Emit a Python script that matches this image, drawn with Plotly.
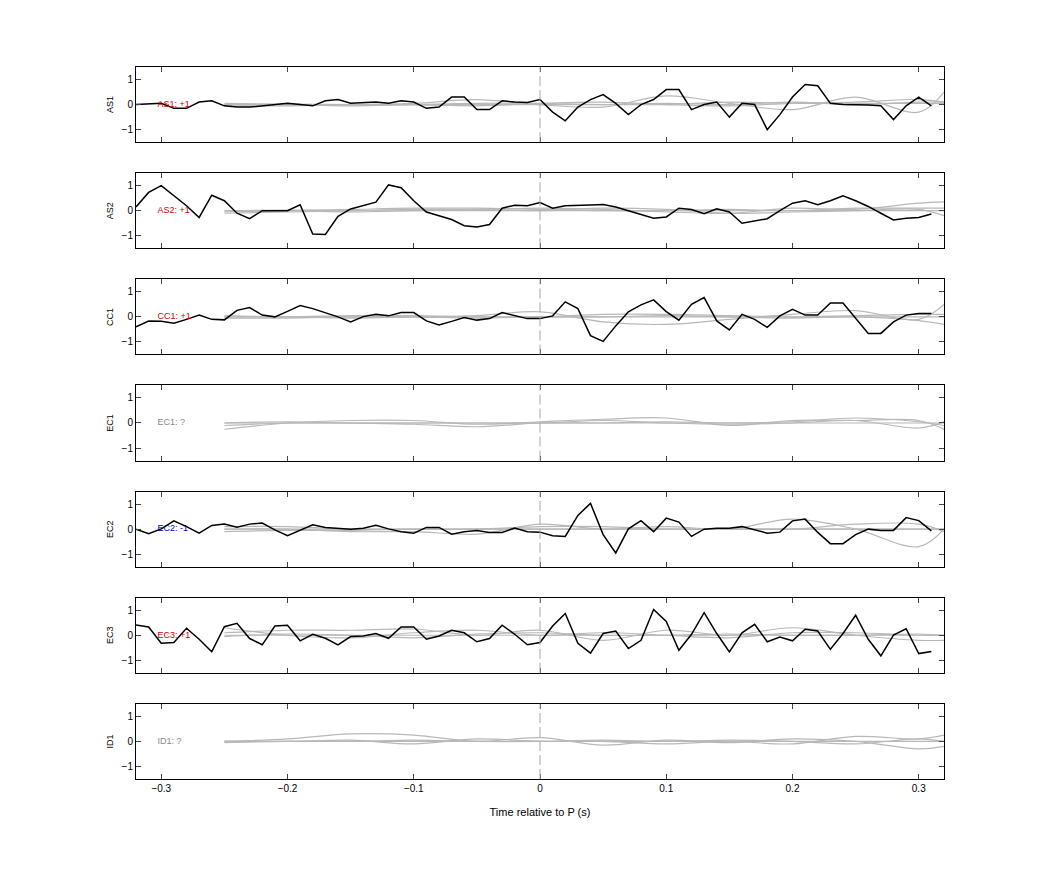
import plotly.graph_objects as go
from plotly.subplots import make_subplots

stations = ["AS1", "AS2", "CC1", "EC1", "EC2", "EC3", "ID1"]
labels = ["AS1: +1", "AS2: +1", "CC1: +1", "EC1: ?", "EC2: -1", "EC3: +1", "ID1: ?"]
label_colors = ["#d40000", "#d40000", "#d40000", "#888888", "#0000d4", "#d40000", "#888888"]

t0, dt = -0.32, 0.01
black = {
    "AS1": [0.0, 0.02, 0.05, -0.15, -0.15, 0.1, 0.15, -0.05, -0.1, -0.1, -0.05, 0.0, 0.05, 0.0, -0.05, 0.15,
            0.2, 0.05, 0.08, 0.1, 0.05, 0.15, 0.1, -0.15, -0.1, 0.3, 0.3, -0.2, -0.2, 0.15, 0.1, 0.08,
            0.2, -0.3, -0.65, -0.1, 0.2, 0.4, 0.05, -0.4, 0.0, 0.2, 0.6, 0.6, -0.2, 0.0, 0.1, -0.5,
            0.05, 0.0, -1.0, -0.4, 0.3, 0.8, 0.75, 0.05, 0.0, 0.0, -0.02, -0.05, -0.6, -0.05, 0.3, -0.05],
    "AS2": [0.15, 0.73, 1.0, 0.6, 0.2, -0.27, 0.62, 0.4, -0.1, -0.32, 0.0, 0.0, 0.0, 0.24, -0.93, -0.95,
            -0.22, 0.07, 0.2, 0.34, 1.03, 0.92, 0.4, -0.05, -0.2, -0.35, -0.6, -0.65, -0.55, 0.1, 0.22, 0.2,
            0.33, 0.1, 0.2, 0.23, 0.23, 0.25, 0.15, 0.0, -0.15, -0.3, -0.25, 0.1, 0.05, -0.12, 0.08, -0.05,
            -0.5, -0.4, -0.32, 0.0, 0.3, 0.4, 0.24, 0.4, 0.6, 0.4, 0.17, -0.1, -0.37, -0.3, -0.27, -0.13],
    "CC1": [-0.4, -0.17, -0.18, -0.25, -0.1, 0.07, -0.1, -0.12, 0.26, 0.37, 0.07, 0.0, 0.22, 0.45, 0.33, 0.17,
            0.0, -0.2, 0.01, 0.1, 0.04, 0.17, 0.17, -0.16, -0.32, -0.18, -0.03, -0.13, -0.07, 0.17, 0.04, -0.07,
            -0.07, 0.04, 0.6, 0.33, -0.75, -0.98, -0.36, 0.2, 0.48, 0.68, 0.21, -0.13, 0.5, 0.77, -0.16, -0.52,
            0.1, -0.1, -0.42, 0.04, 0.3, 0.07, 0.07, 0.55, 0.55, -0.05, -0.66, -0.66, -0.2, 0.07, 0.13, 0.13],
    "EC2": [0.0, -0.18, 0.01, 0.33, 0.1, -0.16, 0.15, 0.2, 0.08, 0.2, 0.24, -0.03, -0.26, -0.05, 0.17, 0.07,
            0.04, 0.0, 0.04, 0.15, 0.01, -0.1, -0.16, 0.07, 0.07, -0.2, -0.1, -0.05, -0.13, -0.13, 0.04, -0.1,
            -0.12, -0.26, -0.29, 0.55, 1.03, -0.22, -0.95, 0.01, 0.34, -0.1, 0.44, 0.28, -0.29, 0.0, 0.04, 0.04,
            0.1, -0.03, -0.16, -0.12, 0.33, 0.4, -0.13, -0.58, -0.58, -0.22, 0.0, -0.05, -0.05, 0.46, 0.34, -0.07],
    "EC3": [0.41, 0.33, -0.32, -0.29, 0.28, -0.16, -0.66, 0.34, 0.48, -0.13, -0.38, 0.37, 0.4, -0.22, 0.04, -0.12,
            -0.38, -0.05, -0.03, 0.07, -0.12, 0.33, 0.33, -0.16, -0.03, 0.2, 0.1, -0.26, -0.13, 0.4, 0.04, -0.38,
            -0.29, 0.37, 0.87, -0.32, -0.71, 0.07, 0.17, -0.53, -0.2, 1.03, 0.55, -0.6, 0.04, 0.9, 0.07, -0.66,
            0.1, 0.44, -0.26, -0.07, -0.22, 0.24, 0.17, -0.56, 0.07, 0.8, -0.16, -0.82, 0.01, 0.26, -0.73, -0.65],
}

gray_t = [-0.25, -0.2, -0.15, -0.1, -0.05, 0.0, 0.05, 0.1, 0.15, 0.2, 0.25, 0.3, 0.32]
gray = {
    "AS1": [[0, 0, 0, 0.05, 0.2, 0.0, -0.1, 0.35, 0.05, -0.2, 0.3, -0.3, 0.5],
            [0.05, 0, -0.05, 0, 0.05, 0.05, 0, 0.05, 0, 0.1, 0, 0.1, 0.1],
            [-0.05, -0.05, 0, 0, -0.05, 0.05, 0.1, 0, -0.05, 0.05, 0.1, 0.2, 0.1],
            [0, 0.02, 0, 0, 0, 0, 0, 0, 0.1, 0.05, 0.05, 0.05, 0.05]],
    "AS2": [[-0.1, -0.05, 0, 0.05, 0.05, 0.1, 0.05, -0.05, -0.1, 0.1, 0.05, 0.3, 0.35],
            [0, 0, 0.05, 0.1, 0.1, 0.05, 0, 0, 0.05, 0, 0.1, 0.1, 0.1],
            [-0.05, 0, -0.05, 0, 0.05, 0, 0.1, 0.05, -0.1, -0.05, 0, 0.05, -0.2],
            [0, 0.02, 0, 0, 0, 0, 0, 0, 0, 0, 0, 0, 0]],
    "CC1": [[0, 0, -0.05, 0, 0.05, 0.2, -0.2, -0.3, -0.1, 0.1, 0.25, -0.1, 0.5],
            [0.05, 0, 0.05, 0.05, 0, 0, 0.1, 0.1, 0.05, 0, 0.05, 0.1, 0.1],
            [-0.05, -0.05, 0, 0, -0.05, 0, 0, 0.05, 0, -0.05, 0, -0.15, -0.3],
            [0, 0, 0, 0, 0, 0, 0, 0, 0, 0, 0, 0, 0]],
    "EC1": [[-0.25, 0, 0.1, 0.1, -0.05, 0.05, 0.15, 0.2, -0.1, 0.1, 0.1, 0.1, -0.25],
            [-0.1, 0, 0, 0, 0, 0, 0.1, 0, -0.05, 0, 0.1, -0.2, 0.05],
            [0, 0.05, 0, -0.05, -0.15, 0, 0, 0.05, 0, 0.05, 0.2, 0.05, -0.1],
            [0, 0, 0, 0, 0, 0, 0, 0, 0, 0, 0, 0, 0]],
    "EC2": [[0, 0, -0.1, -0.1, -0.2, 0.2, 0.0, 0.1, 0.0, 0.4, 0.0, -0.7, 0.0],
            [0.1, 0.1, 0, 0, 0, 0.1, 0.1, 0, 0, 0, 0.2, 0.2, -0.1],
            [-0.1, -0.05, -0.05, 0, 0, 0, 0, 0, 0, 0, 0, 0, 0],
            [0, 0, 0, 0, 0, 0, 0, 0, 0, 0, 0, 0, 0]],
    "EC3": [[0.1, 0.2, 0.2, 0.25, 0, 0.2, -0.2, 0.2, 0, 0.3, 0, -0.2, -0.2],
            [0.3, 0, -0.1, 0.1, 0.2, 0, 0.1, 0, -0.1, 0.1, 0.1, 0, 0],
            [-0.05, 0.05, 0, -0.1, 0.05, 0.1, 0, 0, 0.05, 0, 0, 0.05, 0],
            [0, 0, 0, 0, 0, 0, 0, 0, 0, 0, 0, 0, 0]],
    "ID1": [[0, 0.1, 0.3, 0.25, 0, 0.15, -0.15, 0.05, -0.05, 0.1, 0, -0.3, -0.2],
            [0, 0, 0.05, -0.1, 0.1, 0, 0, -0.1, 0, -0.1, 0.2, 0.1, 0.25],
            [-0.05, 0, 0, 0.05, 0, 0, 0.05, 0, 0.05, 0, -0.1, 0.1, 0],
            [0, 0, 0, 0, 0, 0, 0, 0, 0, 0, 0, 0, 0]],
}

x_ticks = [-0.3, -0.2, -0.1, 0, 0.1, 0.2, 0.3]
y_ticks = [-1, 0, 1]

fig = make_subplots(rows=7, cols=1, shared_xaxes=False, vertical_spacing=0.0435)
for i, st in enumerate(stations):
    r = i + 1
    for g in gray[st]:
        fig.add_trace(go.Scatter(x=gray_t, y=g, mode="lines", line=dict(color="#b8b8b8", width=1.2, shape="spline"),
                                 hoverinfo="skip", showlegend=False), row=r, col=1)
    if st in black:
        ys = black[st]
        xs = [round(t0 + dt * k, 4) for k in range(len(ys))]
        fig.add_trace(go.Scatter(x=xs, y=ys, mode="lines", line=dict(color="black", width=1.5),
                                 showlegend=False), row=r, col=1)
    fig.add_trace(go.Scatter(x=[-0.303], y=[0], mode="text", text=[labels[i]], textposition="middle right",
                             textfont=dict(color=label_colors[i], size=9, family="Liberation Sans"),
                             showlegend=False), row=r, col=1)
    xa = "x" if r == 1 else f"x{r}"
    ya = "y" if r == 1 else f"y{r}"
    fig.add_shape(type="line", x0=0, x1=0, y0=0, y1=1, xref=xa, yref=f"{ya} domain",
                  line=dict(color="#b0a4a4", width=1, dash="10px,4px"))
    fig.update_xaxes(range=[-0.32, 0.32], tickvals=x_ticks, showticklabels=(r == 7), ticks="inside",
                     ticklen=5, mirror="ticks", showline=True, linecolor="black", linewidth=1,
                     showgrid=False, zeroline=False, row=r, col=1)
    fig.update_yaxes(range=[-1.5, 1.5], tickvals=y_ticks, ticks="inside", ticklen=5, mirror="ticks",
                     showline=True, linecolor="black", linewidth=1, showgrid=False, zeroline=False,
                     title=dict(text=st, font=dict(size=9), standoff=6), row=r, col=1)

fig.update_xaxes(title=dict(text="Time relative to P (s)", font=dict(size=11)), row=7, col=1)
fig.update_layout(width=1042, height=875, margin=dict(l=128, r=106, t=59, b=104),
                  plot_bgcolor="white", paper_bgcolor="white",
                  font=dict(family="Liberation Sans", size=10, color="black"))
fig.write_html("out.html")
